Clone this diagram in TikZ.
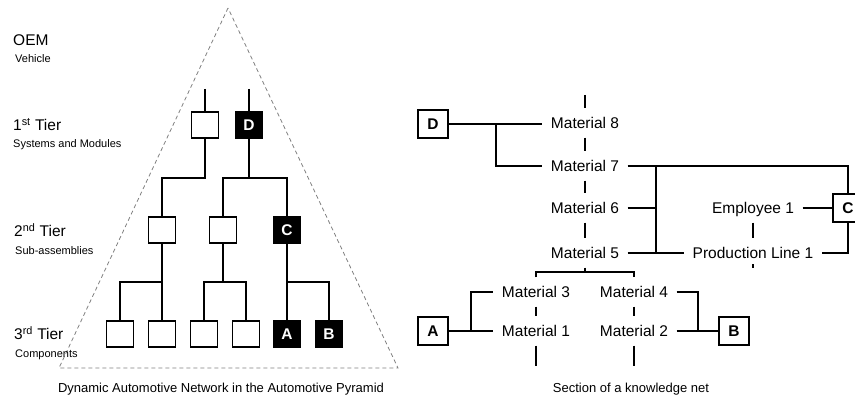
\documentclass[tikz,border=0pt]{standalone}
\usepackage{fontspec}
\setmainfont{Liberation Sans}
\newcommand\myBig{\fontsize{15.5}{18}\selectfont}
\newcommand\mySmall{\fontsize{11}{13}\selectfont}
\newcommand\myCap{\fontsize{13}{15}\selectfont}
\begin{document}
\begin{tikzpicture}[x=1pt,y=-1pt,
  ln/.style={line width=1.1pt,black},
  wbox/.style={draw,line width=1.1pt,fill=white,minimum width=27pt,minimum height=26pt,inner sep=0pt},
  bbox/.style={wbox,fill=black,text=white,font=\myBig\bfseries},
  rbox/.style={draw,line width=1.1pt,fill=white,minimum width=30pt,minimum height=28pt,inner sep=0pt,font=\myBig\bfseries},
  mat/.style={inner xsep=8.5pt,inner ysep=0pt,minimum height=29pt,text height=11.2pt,text depth=0pt,font=\myBig},
  tierlbl/.style={anchor=base west,inner sep=0pt,font=\myBig},
  sublbl/.style={anchor=base west,inner sep=0pt,font=\mySmall},
  captxt/.style={anchor=base,inner sep=0pt,font=\myCap}]
\useasboundingbox (0,0) rectangle (855,398);
% pyramid
\coordinate (apex) at (228,8);
\coordinate (bl) at (59,368);
\coordinate (br) at (398,368);
\draw[black!50,line width=0.8pt,dash pattern=on 4pt off 3pt] (apex) -- (bl) -- (br) -- cycle;
% tier labels
\node[tierlbl] (oem) at (13,46) {OEM};
\node[sublbl] (veh) at (15,63) {Vehicle};
\node[tierlbl] (t1l) at (13,131) {1\textsuperscript{st} Tier};
\node[sublbl] (t1s) at (13,148) {Systems and Modules};
\node[tierlbl] (t2l) at (14,237) {2\textsuperscript{nd} Tier};
\node[sublbl] (t2s) at (15,255) {Sub-assemblies};
\node[tierlbl] (t3l) at (14,340) {3\textsuperscript{rd} Tier};
\node[sublbl] (t3s) at (15,358) {Components};
% left boxes
\node[wbox] (t1a) at (205,125) {};
\node[bbox] (t1d) at (249,125) {D};
\node[wbox] (t2a) at (162,230) {};
\node[wbox] (t2b) at (223,230) {};
\node[bbox] (t2c) at (287,230) {C};
\node[wbox] (t3a) at (120,334) {};
\node[wbox] (t3b) at (162,334) {};
\node[wbox] (t3c) at (204,334) {};
\node[wbox] (t3d) at (246,334) {};
\node[bbox] (t3A) at (287,334) {A};
\node[bbox] (t3B) at (329,334) {B};
% left connectors
\coordinate (t1atop) at (205,89);
\coordinate (t1dtop) at (249,89);
\draw[ln] (t1atop) -- (t1a.north);
\draw[ln] (t1dtop) -- (t1d.north);
\draw[ln] (t1a.south) -- (t1a.south |- 0,178) -| (t2a.north);
\draw[ln] (t1d.south) -- (t1d.south |- 0,178);
\draw[ln] (t2b.north) |- (t2c.north |- 0,178) -- (t2c.north);
\draw[ln] (t2a.south) -- (t3b.north);
\draw[ln] (t3a.north) |- (t3b.north |- 0,282);
\draw[ln] (t2b.south) -- (t2b.south |- 0,282);
\draw[ln] (t3c.north) |- (t3d.north |- 0,282) -- (t3d.north);
\draw[ln] (t2c.south) -- (t3A.north);
\draw[ln] (t3B.north) |- (t3A.north |- 0,282);
% captions
\node[captxt] (capl) at (221,392) {Dynamic Automotive Network in the Automotive Pyramid};
\node[captxt] (capr) at (631,392) {Section of a knowledge net};
% right nodes
\node[rbox] (rD) at (433,124) {D};
\node[mat] (m8) at (585,123) {Material 8};
\node[mat] (m7) at (585,166) {Material 7};
\node[mat] (m6) at (585,208) {Material 6};
\node[mat] (m5) at (585,253) {Material 5};
\node[mat] (e1) at (753,208) {Employee 1};
\node[mat] (pl) at (753,253) {Production Line 1};
\node[rbox] (rC) at (848,208) {C};
\node[mat] (m3) at (536,292) {Material 3};
\node[mat] (m4) at (634,292) {Material 4};
\node[mat] (m1) at (536,331) {Material 1};
\node[mat] (m2) at (634,331) {Material 2};
\node[rbox] (rA) at (433,331) {A};
\node[rbox] (rB) at (734,331) {B};
% right connectors
\coordinate (m8top) at (585,95);
\coordinate (jd) at (496,124);
\coordinate (j7) at (656,166);
\coordinate (j5) at (656,253);
\coordinate (ja) at (471,331);
\coordinate (jb) at (698,331);
\draw[ln] (rD.east) -- (rD.east -| m8.west);
\draw[ln] (jd) |- (m7.west);
\draw[ln] (m7.east) -| (rC.north);
\draw[ln] (j7) -- (j5);
\draw[ln] (m6.east) -- (m6.east -| j7);
\draw[ln] (m5.east) -- (pl.west);
\draw[ln] (e1.east) -- (rC.west);
\draw[ln] (pl.east) -| (rC.south);
\draw[ln] (m8top) -- (m8.north);
\draw[ln] (m8) -- (m7);
\draw[ln] (m7) -- (m6);
\draw[ln] (m6) -- (m5);
\draw[ln] (e1) -- (pl);
\draw[ln] (pl.south) -- ++(0,-4);
\draw[ln] (m5.south) -- (m5.south |- 0,272);
\draw[ln] (m3.north) |- (m4.north |- 0,272) -- (m4.north);
\draw[ln] (m3) -- (m1);
\draw[ln] (m4) -- (m2);
\draw[ln] (m1.south) -- ++(0,20.5);
\draw[ln] (m2.south) -- ++(0,20.5);
\draw[ln] (rA.east) -- (m1.west);
\draw[ln] (ja) |- (m3.west);
\draw[ln] (m2.east) -- (rB.west);
\draw[ln] (m4.east) -| (jb);
\end{tikzpicture}
\end{document}
